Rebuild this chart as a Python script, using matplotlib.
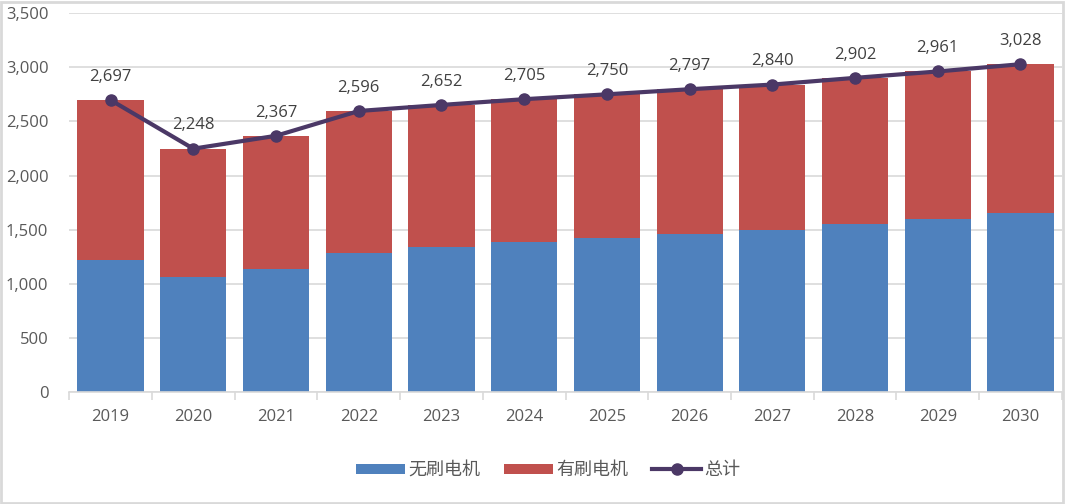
import numpy as np
import matplotlib.pyplot as plt
from matplotlib.patches import Rectangle
from matplotlib.ticker import FuncFormatter

plt.rcParams['font.family'] = ['Open Sans', 'Noto Sans CJK SC', 'DejaVu Sans']

years = ['2019', '2020', '2021', '2022', '2023', '2024', '2025', '2026',
         '2027', '2028', '2029', '2030']
total = [2697, 2248, 2367, 2596, 2652, 2705, 2750, 2797, 2840, 2902, 2961, 3028]
brushless = [1220, 1060, 1134, 1282, 1337, 1386, 1423, 1460, 1497, 1553, 1596, 1652]
brushed = [t - b for t, b in zip(total, brushless)]

blue = '#4F81BD'
red = '#C0504D'
purple = '#4B3866'
grid = '#D9D9D9'
text = '#595959'

fig = plt.figure(figsize=(10.65, 5.04), dpi=100)
ax = fig.add_axes([0.065, 0.222, 0.932, 0.752])

x = np.arange(len(years))
b1 = ax.bar(x, brushless, width=0.8, color=blue, label='无刷电机', zorder=2)
b2 = ax.bar(x, brushed, width=0.8, bottom=brushless, color=red, label='有刷电机', zorder=2)
ln, = ax.plot(x, total, color=purple, lw=3, marker='o', ms=8, label='总计', zorder=3)

for xi, t in zip(x, total):
    ax.annotate(f'{t:,}', (xi, t), xytext=(0, 11), textcoords='offset points',
                ha='center', va='bottom', fontsize=12, color='#404040')

ax.set_xlim(-0.5, len(years) - 0.5)
ax.set_ylim(0, 3500)
ax.set_yticks(range(0, 3501, 500))
ax.yaxis.set_major_formatter(FuncFormatter(lambda v, p: f'{int(v):,}'))
ax.set_xticks(x)
ax.set_xticklabels(years)
ax.set_xticks(np.arange(-0.5, len(years)), minor=True)
ax.tick_params(axis='x', which='major', length=0, pad=12, labelsize=12, labelcolor=text)
ax.tick_params(axis='x', which='minor', length=6, color=grid, width=1.2)
ax.tick_params(axis='y', length=0, pad=15, labelsize=12, labelcolor=text)
ax.grid(axis='y', color=grid, lw=1.2, zorder=0)
for s in ['left', 'right', 'top']:
    ax.spines[s].set_visible(False)
ax.spines['bottom'].set_color(grid)
ax.spines['bottom'].set_linewidth(1.2)

fig.legend([b1, b2, ln], ['无刷电机', '有刷电机', '总计'], loc='center',
           bbox_to_anchor=(0.515, 0.067), ncol=3, frameon=False,
           fontsize=13, handlelength=2.7, handleheight=0.5, columnspacing=1.3,
           handletextpad=0.2, labelcolor=text)

fig.patches.append(Rectangle((0.001, 0.002), 0.997, 0.995, transform=fig.transFigure,
                             fill=False, edgecolor=grid, lw=2))

plt.savefig('out.png', dpi=100)
